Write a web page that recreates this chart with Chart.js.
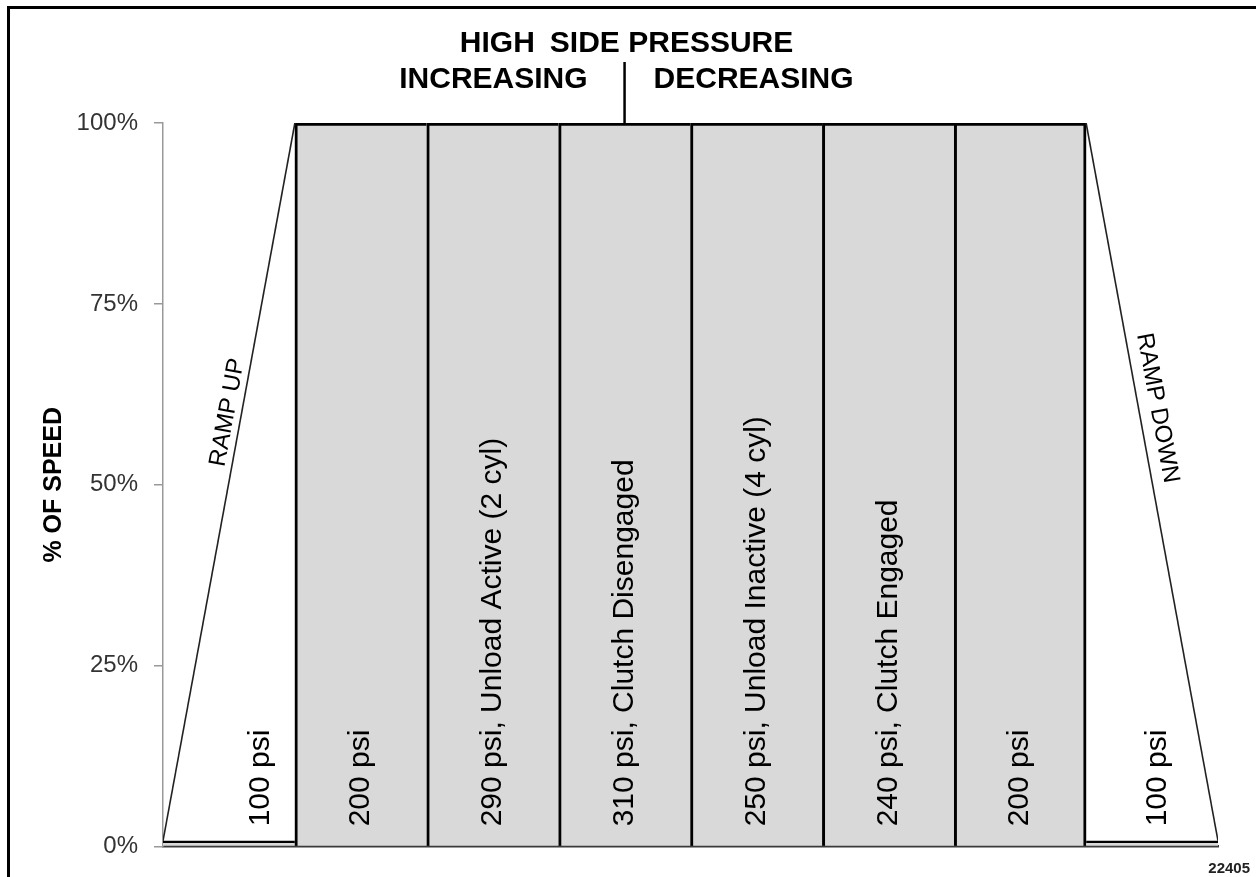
<!DOCTYPE html>
<html>
<head>
<meta charset="utf-8">
<script src="https://cdn.jsdelivr.net/npm/chart.js@4.4.0/dist/chart.umd.min.js"></script>
<style>
html, body { margin: 0; padding: 0; background: #fff; }
canvas { display: block; }
</style>
</head>
<body>
<canvas id="speedChart" width="1256" height="877"></canvas>
<script>
// pressure stages, left to right
var slotLabels = [
  "100 psi",
  "200 psi",
  "290 psi, Unload Active (2 cyl)",
  "310 psi, Clutch Disengaged",
  "250 psi, Unload Inactive (4 cyl)",
  "240 psi, Clutch Engaged",
  "200 psi",
  "100 psi",
];
var slotSpeed = [0.8, 100, 100, 100, 100, 100, 100, 0.8];
var rampUp = [0.8, 100];
var rampDown = [100, 0.8];
var yTicks = [0, 25, 50, 75, 100];

var FONT = "'Liberation Sans', Arial, sans-serif";
var last = slotSpeed.length - 1;

var overlay = {
  id: "overlay",
  beforeDraw: function (chart) {
    var ctx = chart.ctx;
    ctx.save();
    ctx.fillStyle = "#000";
    ctx.fillRect(7, 6, 3, 877);
    ctx.fillRect(7, 6, 1256, 3);
    ctx.restore();
  },
  afterDatasetsDraw: function (chart) {
    var ctx = chart.ctx, x = chart.scales.x, y = chart.scales.y;
    ctx.save();
    ctx.fillStyle = "#000";

    // text inside each slot
    ctx.font = "30px " + FONT;
    ctx.textAlign = "left";
    ctx.textBaseline = "middle";
    slotLabels.forEach(function (lab, i) {
      var xv = i + 0.5;
      if (i === 0) xv = 0.74;
      if (i === last) xv = last + 0.54;
      ctx.save();
      ctx.translate(x.getPixelForValue(xv), y.getPixelForValue(2.8));
      ctx.rotate(-Math.PI / 2);
      ctx.fillText(lab, 0, 0);
      ctx.restore();
    });

    // ramp labels follow the ramp lines
    ctx.font = "24px " + FONT;
    ctx.textAlign = "center";
    var a1 = Math.atan2(y.getPixelForValue(rampUp[1]) - y.getPixelForValue(rampUp[0]),
      x.getPixelForValue(1) - x.getPixelForValue(0));
    ctx.save();
    ctx.translate(x.getPixelForValue(0.49), y.getPixelForValue(60));
    ctx.rotate(a1);
    ctx.fillText("RAMP UP", 0, 0);
    ctx.restore();
    var a2 = Math.atan2(y.getPixelForValue(rampDown[1]) - y.getPixelForValue(rampDown[0]),
      x.getPixelForValue(last + 1) - x.getPixelForValue(last));
    ctx.save();
    ctx.translate(x.getPixelForValue(last + 0.54), y.getPixelForValue(60.6));
    ctx.rotate(a2);
    ctx.fillText("RAMP DOWN", 0, 0);
    ctx.restore();

    // header
    var mid = x.getPixelForValue(3.5);
    ctx.font = "bold 30px " + FONT;
    ctx.textBaseline = "alphabetic";
    ctx.textAlign = "center";
    ctx.fillText("HIGH\u2002SIDE PRESSURE", mid + 2, 52);
    ctx.textAlign = "right";
    ctx.fillText("INCREASING", mid - 37, 88);
    ctx.textAlign = "left";
    ctx.fillText("DECREASING", mid + 29, 88);
    ctx.strokeStyle = "#000";
    ctx.lineWidth = 2.5;
    ctx.beginPath();
    ctx.moveTo(mid, 62);
    ctx.lineTo(mid, chart.chartArea.top);
    ctx.stroke();

    ctx.font = "bold 15px " + FONT;
    ctx.fillStyle = "#222";
    ctx.textAlign = "right";
    ctx.fillText("22405", 1250, 873);
    ctx.restore();
  },
};

var ctx = document.getElementById("speedChart").getContext("2d");
var speedChart = new Chart(ctx, {
  type: "bar",
  data: {
    datasets: [
      {
        type: "line",
        data: rampUp.map(function (v, i) { return { x: i, y: v }; }),
        borderColor: "#222",
        borderWidth: 1.6,
        pointRadius: 0,
        fill: false,
        order: 0,
      },
      {
        type: "line",
        data: rampDown.map(function (v, i) { return { x: last + i, y: v }; }),
        borderColor: "#222",
        borderWidth: 1.6,
        pointRadius: 0,
        fill: false,
        order: 0,
      },
      {
        data: slotSpeed.map(function (v, i) { return { x: i + 0.5, y: v }; }),
        backgroundColor: "#d9d9d9",
        borderColor: "#000",
        borderSkipped: false,
        borderWidth: function (c) {
          var i = c.dataIndex;
          if (i === 0 || i === last) return { top: 3, left: 0, right: 0, bottom: 0 };
          return { top: 3, left: 3, right: i === last - 1 ? 3 : 0, bottom: 0 };
        },
        barPercentage: 1,
        categoryPercentage: 1,
        order: 1,
      },
    ],
  },
  options: {
    responsive: false,
    animation: false,
    devicePixelRatio: 1,
    layout: { padding: { left: 0, top: 123, right: 38, bottom: 29 } },
    plugins: { legend: { display: false }, tooltip: { enabled: false } },
    scales: {
      x: {
        type: "linear",
        offset: false,
        min: 0,
        max: slotSpeed.length,
        ticks: { display: false, stepSize: 1 },
        grid: { display: false, drawTicks: false, offset: false },
        border: { color: "#3a3a3a", width: 2.5 },
      },
      y: {
        min: 0,
        max: 100,
        afterBuildTicks: function (s) {
          s.ticks = yTicks.map(function (v) { return { value: v }; });
        },
        afterFit: function (s) { s.width = 163; },
        ticks: {
          callback: function (v) { return v + "%"; },
          font: { family: FONT, size: 24 },
          color: "#333",
          padding: 16,
        },
        grid: { drawOnChartArea: false, drawTicks: true, tickLength: 9, color: "#999", lineWidth: 1.5 },
        border: { color: "#999", width: 1.5 },
        title: {
          display: true,
          text: "% OF SPEED",
          font: { family: FONT, size: 25, weight: "bold" },
          color: "#000",
          padding: { top: 39, bottom: 0 },
        },
      },
    },
  },
  plugins: [overlay],
});
</script>
</body>
</html>
